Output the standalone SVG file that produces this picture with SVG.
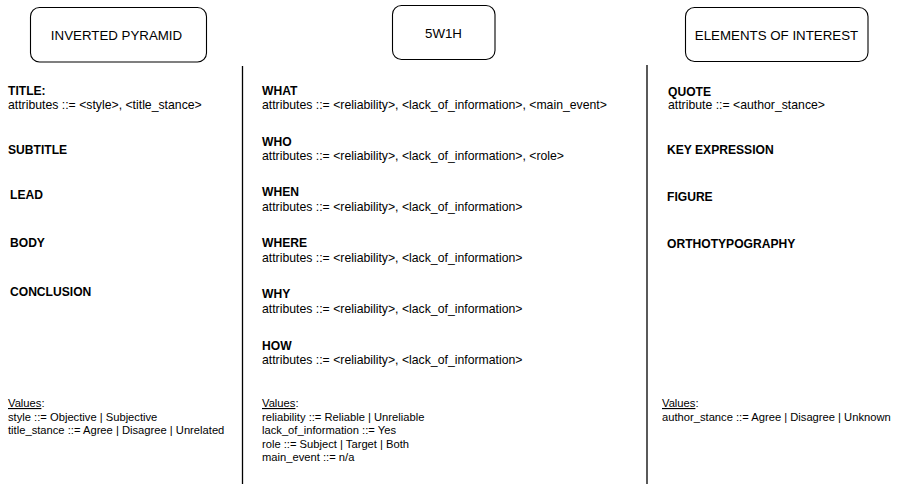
<svg xmlns="http://www.w3.org/2000/svg" width="899" height="484" viewBox="0 0 899 484">
<style>
.box{fill:#fff;stroke:#000;stroke-width:1.1}
.hd{font-family:"Liberation Sans",Arial,sans-serif;font-size:13.3px;fill:#000;text-anchor:middle}
.b{font-family:"Liberation Sans",Arial,sans-serif;font-size:12.1px;font-weight:bold;fill:#000}
.a{font-family:"Liberation Sans",Arial,sans-serif;font-size:12.25px;fill:#000}
.r{font-family:"Liberation Sans",Arial,sans-serif;font-size:11.2px;fill:#000}
.u{text-decoration:underline}
.sep{stroke:#000;stroke-width:1.3}
</style>
<rect width="899" height="484" fill="#fff"/>
<g id="node-inverted-pyramid">
<rect class="box" x="30.5" y="7.5" width="176" height="54.5" rx="9"/>
<text class="hd" x="116.5" y="39.5">INVERTED PYRAMID</text>
</g>
<g id="node-5w1h">
<rect class="box" x="392.5" y="5.5" width="102.5" height="54" rx="9"/>
<text class="hd" x="443.5" y="37.5">5W1H</text>
</g>
<g id="node-elements">
<rect class="box" x="685.5" y="7.5" width="182.5" height="54" rx="9"/>
<text class="hd" x="776.5" y="39.5">ELEMENTS OF INTEREST</text>
</g>
<g id="connectors">
<line class="sep" x1="242.5" y1="66" x2="242.5" y2="484"/>
<line class="sep" x1="647" y1="65" x2="647" y2="484"/>
</g>
<g id="col-inverted-pyramid">
<text class="b" x="8" y="95">TITLE:</text>
<text class="a" x="8" y="109">attributes ::= &lt;style&gt;, &lt;title_stance&gt;</text>
<text class="b" x="8" y="154">SUBTITLE</text>
<text class="b" x="10" y="198.5">LEAD</text>
<text class="b" x="10" y="247">BODY</text>
<text class="b" x="10" y="296">CONCLUSION</text>
<text class="r" x="8" y="407"><tspan class="u">Values</tspan>:</text>
<text class="r" x="8" y="420.5">style ::= Objective | Subjective</text>
<text class="r" x="8" y="434">title_stance ::= Agree | Disagree | Unrelated</text>
</g>
<g id="col-5w1h">
<text class="b" x="262" y="95">WHAT</text>
<text class="a" x="262" y="109">attributes ::= &lt;reliability&gt;, &lt;lack_of_information&gt;, &lt;main_event&gt;</text>
<text class="b" x="262" y="146">WHO</text>
<text class="a" x="262" y="160">attributes ::= &lt;reliability&gt;, &lt;lack_of_information&gt;, &lt;role&gt;</text>
<text class="b" x="262" y="196">WHEN</text>
<text class="a" x="262" y="210.5">attributes ::= &lt;reliability&gt;, &lt;lack_of_information&gt;</text>
<text class="b" x="262" y="247">WHERE</text>
<text class="a" x="262" y="261.5">attributes ::= &lt;reliability&gt;, &lt;lack_of_information&gt;</text>
<text class="b" x="262" y="298">WHY</text>
<text class="a" x="262" y="312.5">attributes ::= &lt;reliability&gt;, &lt;lack_of_information&gt;</text>
<text class="b" x="262" y="349.5">HOW</text>
<text class="a" x="262" y="364">attributes ::= &lt;reliability&gt;, &lt;lack_of_information&gt;</text>
<text class="r" x="262" y="407"><tspan class="u">Values</tspan>:</text>
<text class="r" x="262" y="420.5">reliability ::= Reliable | Unreliable</text>
<text class="r" x="262" y="434">lack_of_information ::= Yes</text>
<text class="r" x="262" y="447.5">role ::= Subject | Target | Both</text>
<text class="r" x="262" y="461">main_event ::= n/a</text>
</g>
<g id="col-elements">
<text class="b" x="668" y="95.5">QUOTE</text>
<text class="a" x="668" y="109">attribute ::= &lt;author_stance&gt;</text>
<text class="b" x="667" y="154">KEY EXPRESSION</text>
<text class="b" x="667" y="200.5">FIGURE</text>
<text class="b" x="667" y="248">ORTHOTYPOGRAPHY</text>
<text class="r" x="662" y="407"><tspan class="u">Values</tspan>:</text>
<text class="r" x="662" y="420.5">author_stance ::= Agree | Disagree | Unknown</text>
</g>
</svg>
